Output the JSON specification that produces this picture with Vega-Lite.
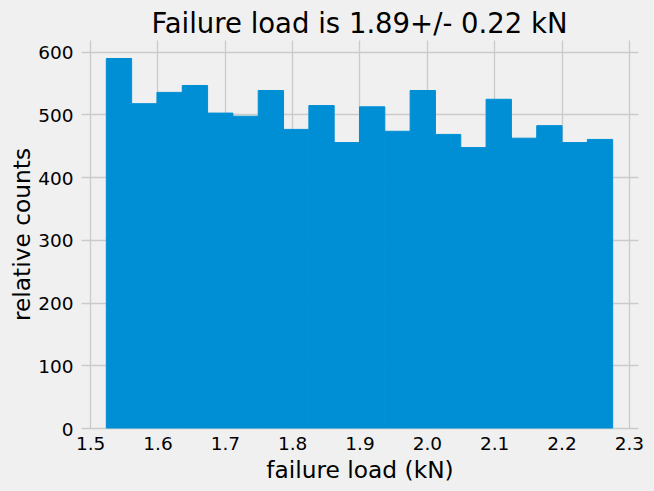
{
  "$schema": "https://vega.github.io/schema/vega-lite/v6.json",
  "width": 557,
  "height": 388,
  "autosize": {"type": "none"},
  "padding": {"left": 81, "top": 40, "right": 16, "bottom": 63},
  "background": "#f0f0f0",
  "config": {
    "view": {"stroke": null},
    "font": "DejaVu Sans",
    "axis": {
      "domain": false,
      "ticks": false,
      "grid": true,
      "gridColor": "#cbcbcb",
      "gridWidth": 1.3,
      "labelFont": "DejaVu Sans",
      "labelFontSize": 18.5,
      "labelColor": "#000000",
      "titleFont": "DejaVu Sans",
      "titleFontSize": 23.3,
      "titleFontWeight": "normal",
      "titleColor": "#000000"
    }
  },
  "title": {
    "text": "Failure load is 1.89+/- 0.22 kN",
    "font": "DejaVu Sans",
    "fontSize": 27.5,
    "fontWeight": "normal",
    "color": "#000000",
    "anchor": "middle",
    "baseline": "alphabetic",
    "offset": 2,
    "dy": 22
  },
  "data": {
    "values": [
      {"x0": 1.5240, "x1": 1.5616, "count": 589},
      {"x0": 1.5616, "x1": 1.5992, "count": 517},
      {"x0": 1.5992, "x1": 1.6368, "count": 535},
      {"x0": 1.6368, "x1": 1.6744, "count": 546},
      {"x0": 1.6744, "x1": 1.7120, "count": 502},
      {"x0": 1.7120, "x1": 1.7496, "count": 497},
      {"x0": 1.7496, "x1": 1.7872, "count": 538},
      {"x0": 1.7872, "x1": 1.8248, "count": 476},
      {"x0": 1.8248, "x1": 1.8624, "count": 514},
      {"x0": 1.8624, "x1": 1.9000, "count": 455},
      {"x0": 1.9000, "x1": 1.9376, "count": 512},
      {"x0": 1.9376, "x1": 1.9752, "count": 473},
      {"x0": 1.9752, "x1": 2.0128, "count": 538},
      {"x0": 2.0128, "x1": 2.0504, "count": 468},
      {"x0": 2.0504, "x1": 2.0880, "count": 447},
      {"x0": 2.0880, "x1": 2.1256, "count": 524},
      {"x0": 2.1256, "x1": 2.1632, "count": 462},
      {"x0": 2.1632, "x1": 2.2008, "count": 482},
      {"x0": 2.2008, "x1": 2.2384, "count": 455},
      {"x0": 2.2384, "x1": 2.2760, "count": 460}
    ]
  },
  "mark": {"type": "rect", "fill": "#008fd5", "stroke": "#008fd5", "strokeWidth": 1, "opacity": 1},
  "encoding": {
    "x": {
      "field": "x0",
      "type": "quantitative",
      "scale": {"domain": [1.4864, 2.3136], "nice": false, "zero": false},
      "axis": {
        "title": "failure load (kN)",
        "values": [1.5, 1.6, 1.7, 1.8, 1.9, 2.0, 2.1, 2.2, 2.3],
        "format": ".1f",
        "labelBaseline": "alphabetic",
        "labelPadding": 21,
        "titleBaseline": "alphabetic",
        "titleY": 49.5,
        "titleX": 278.5,
        "titleAlign": "center"
      }
    },
    "x2": {"field": "x1"},
    "y": {
      "field": "count",
      "type": "quantitative",
      "scale": {"domain": [0, 618.5], "nice": false},
      "axis": {
        "title": "relative counts",
        "values": [0, 100, 200, 300, 400, 500, 600],
        "labelPadding": 8,
        "labelBaseline": "middle",
        "labelOffset": 1,
        "titleAngle": -90,
        "titleBaseline": "alphabetic",
        "titleAlign": "center",
        "titleX": -52,
        "titleY": 194
      }
    },
    "y2": {"datum": 0}
  }
}
